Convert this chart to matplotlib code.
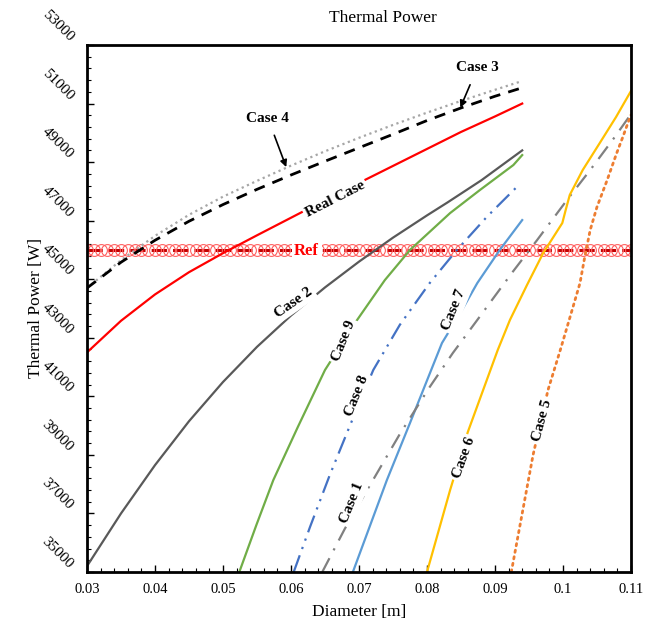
"""Thermal power vs. pipe diameter for the studied cases."""
import matplotlib
matplotlib.use("Agg")
import matplotlib.pyplot as plt
import matplotlib.transforms as mtransforms
from matplotlib.ticker import AutoMinorLocator

plt.rcParams["font.family"] = ["Liberation Serif", "DejaVu Serif"]

# values (diameter [m], thermal power [W])
real_x = [0.030, 0.035, 0.040, 0.045, 0.050, 0.055, 0.060, 0.065, 0.070, 0.075, 0.080, 0.085, 0.090, 0.094]
real_y = [42500, 43580, 44480, 45240, 45890, 46500, 47100, 47700, 48290, 48870, 49450, 50030, 50560, 51000]

case3_x = [0.030, 0.035, 0.040, 0.045, 0.050, 0.055, 0.060, 0.065, 0.070, 0.075, 0.080, 0.085, 0.090, 0.094]
case3_y = [44700, 45580, 46330, 46980, 47550, 48070, 48560, 49030, 49490, 49950, 50420, 50850, 51250, 51540]

case4_x = [0.030, 0.035, 0.040, 0.045, 0.050, 0.055, 0.060, 0.065, 0.070, 0.075, 0.080, 0.085, 0.090, 0.094]
case4_y = [44700, 45650, 46480, 47200, 47820, 48360, 48880, 49370, 49830, 50270, 50690, 51090, 51470, 51770]

case2_x = [0.030, 0.035, 0.040, 0.045, 0.050, 0.055, 0.060, 0.065, 0.070, 0.075, 0.080, 0.083, 0.088, 0.094]
case2_y = [35200, 37000, 38650, 40150, 41490, 42690, 43760, 44720, 45600, 46420, 47180, 47620, 48380, 49400]

case9_x = [0.0524, 0.0549, 0.0574, 0.0610, 0.0650, 0.0694, 0.0738, 0.0775, 0.0834, 0.0878, 0.0927, 0.0940]
case9_y = [35000, 36600, 38140, 39950, 41900, 43500, 44970, 46000, 47260, 48050, 48900, 49240]

case8_x = [0.0604, 0.0628, 0.0657, 0.0687, 0.0721, 0.0760, 0.0804, 0.0844, 0.0888, 0.0932]
case8_y = [35000, 36540, 38310, 40020, 41900, 43440, 44870, 46000, 47130, 48150]

case7_x = [0.0691, 0.0716, 0.0741, 0.0775, 0.0822, 0.0849, 0.0874, 0.0907, 0.0940]
case7_y = [35000, 36570, 38140, 40090, 42820, 43850, 44870, 46000, 47020]

case1_x = [0.0646, 0.0679, 0.0712, 0.0760, 0.0804, 0.0838, 0.0874, 0.0926, 0.0962, 0.1006, 0.1040, 0.1074, 0.110]
case1_y = [35000, 36470, 37800, 39710, 41320, 42480, 43610, 45250, 46340, 47710, 48730, 49790, 50640]

case6_x = [0.0800, 0.0834, 0.0860, 0.0904, 0.0922, 0.0947, 0.0971, 0.0999, 0.1004, 0.1010, 0.1029, 0.1054, 0.1078, 0.110]
case6_y = [35000, 37800, 39780, 42580, 43610, 44800, 45900, 46920, 47370, 47880, 48730, 49650, 50540, 51430]

case5_x = [0.0924, 0.0956, 0.0978, 0.0996, 0.1010, 0.1025, 0.1032, 0.1040, 0.1050, 0.1065, 0.1079, 0.1088, 0.1096, 0.110]
case5_y = [35000, 39000, 41220, 42580, 43680, 44870, 45760, 46680, 47470, 48390, 49310, 49860, 50370, 50610]

ref_value = 46000
ref_x = [0.030 + 0.001 * i for i in range(81)]

x_ticks = [0.03, 0.04, 0.05, 0.06, 0.07, 0.08, 0.09, 0.10, 0.11]
x_tick_labels = ["0.03", "0.04", "0.05", "0.06", "0.07", "0.08", "0.09", "0.1", "0.11"]
y_ticks = list(range(35000, 53001, 2000))

fig = plt.figure(figsize=(6.54, 6.27), dpi=100)
ax = fig.add_axes([87 / 654, 1 - 572 / 627, 544 / 654, 527 / 627])

ax.plot(ref_x, [ref_value] * len(ref_x), color="#C00000", lw=2.2, ls=(0, (5, 2)),
        marker="o", ms=8.5, mfc="none", mec="#FF6060", mew=0.8, zorder=2)

ax.plot(case4_x, case4_y, color="#A6A6A6", lw=1.6, ls=(0, (1, 1.6)))
ax.plot(case3_x, case3_y, color="black", lw=2.0, ls=(0, (4, 3)))
ax.plot(real_x, real_y, color="#FF0000", lw=1.6)
ax.plot(case2_x, case2_y, color="#595959", lw=1.6)
ax.plot(case9_x, case9_y, color="#70AD47", lw=1.6)
ax.plot(case8_x, case8_y, color="#4472C4", lw=1.6, ls=(0, (8, 3, 1, 3, 1, 3)))
ax.plot(case7_x, case7_y, color="#5B9BD5", lw=1.6)
ax.plot(case1_x, case1_y, color="#808080", lw=1.6, ls=(0, (7, 4, 1, 4)))
ax.plot(case6_x, case6_y, color="#FFC000", lw=1.6)
ax.plot(case5_x, case5_y, color="#ED7D31", lw=2.0, ls=(0, (0.8, 1.6)), dash_capstyle="round")

ax.set_xlim(0.03, 0.11)
ax.set_ylim(35000, 53000)
ax.set_xticks(x_ticks)
ax.set_xticklabels(x_tick_labels)
ax.set_yticks(y_ticks)
ax.set_yticklabels([])
# rotated y tick labels, drawn by hand so they can sit a little above their ticks
shift = mtransforms.ScaledTranslation(-0.16, 0.055, fig.dpi_scale_trans)
for v in y_ticks:
    ax.text(0, v, str(v), transform=ax.get_yaxis_transform() + shift, rotation=-45,
            rotation_mode="anchor", ha="right", va="center", fontsize=11, clip_on=False)
ax.xaxis.set_minor_locator(AutoMinorLocator(5))
ax.yaxis.set_minor_locator(AutoMinorLocator(5))
ax.tick_params(which="both", direction="in", top=False, right=False)
ax.tick_params(axis="x", labelsize=10.5, pad=8)
ax.tick_params(which="major", length=5, width=1)
ax.tick_params(which="minor", length=3, width=0.8)
for spine in ax.spines.values():
    spine.set_linewidth(2)

fig.text(383 / 654, 1 - 18 / 627, "Thermal Power", ha="center", va="center", fontsize=12.5)
ax.set_xlabel("Diameter [m]", fontsize=12.5)
ax.set_ylabel("Thermal Power [W]", fontsize=12.5)
ax.xaxis.set_label_coords(0.5, -0.06)
ax.yaxis.set_label_coords(-0.079, 0.5)

box = dict(boxstyle="square,pad=0.15", fc="white", ec="none")
lab = dict(fontsize=11, fontweight="bold", ha="center", va="center", bbox=box, zorder=5)

ax.text(0.0623, 45980, "Ref", color="red", fontsize=12, fontweight="bold",
        ha="center", va="center", bbox=box, zorder=5)
ax.text(0.0665, 47740, "Real Case", rotation=27, **lab)
ax.text(0.0604, 44190, "Case 2", rotation=35, **lab)
ax.text(0.0677, 42890, "Case 9", rotation=68, **lab)
ax.text(0.0697, 41010, "Case 8", rotation=68, **lab)
ax.text(0.0840, 43950, "Case 7", rotation=68, **lab)
ax.text(0.0690, 37360, "Case 1", rotation=68, **lab)
ax.text(0.0854, 38890, "Case 6", rotation=70, **lab)
ax.text(0.0969, 40190, "Case 5", rotation=75, **lab)

ax.annotate("Case 4", xy=(0.0593, 48830), xytext=(0.0566, 50500),
            fontsize=11, fontweight="bold", ha="center", va="center",
            arrowprops=dict(arrowstyle="-|>", color="black", lw=1.2, shrinkA=6, shrinkB=0,
                            mutation_scale=10))
ax.annotate("Case 3", xy=(0.0849, 50860), xytext=(0.0874, 52220),
            fontsize=11, fontweight="bold", ha="center", va="center",
            arrowprops=dict(arrowstyle="-|>", color="black", lw=1.2, shrinkA=6, shrinkB=0,
                            mutation_scale=10))

fig.savefig("out.png", dpi=100)
